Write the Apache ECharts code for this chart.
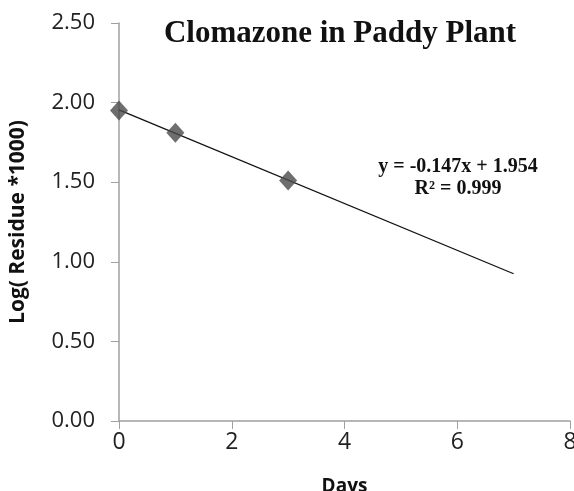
<!DOCTYPE html>
<html>
<head>
<meta charset="utf-8">
<script src="https://cdn.jsdelivr.net/npm/echarts@6/dist/echarts.min.js"></script>
<style>
  html, body { margin: 0; padding: 0; background: #fff; }
  #chart { width: 574px; height: 491px; }
</style>
</head>
<body>
<div id="chart"></div>
<script>
// observed points (days, log residue)
var days = [0, 1, 3];
var logResidue = [1.95, 1.81, 1.51];
// linear trendline ends (y = -0.147x + 1.954)
var trendDays = [0, 7];
var trendValues = [1.954, 0.925];
var equationLines = ["y = -0.147x + 1.954", "R² = 0.999"];

var chartDom = document.getElementById("chart");
var myChart = echarts.init(chartDom, null, { renderer: "canvas" });

var option = {
  animation: false,
  title: {
    text: "Clomazone in Paddy Plant",
    left: 335,
    top: 13,
    textAlign: "center",
    textStyle: {
      fontFamily: "Liberation Serif",
      fontWeight: "bold",
      fontSize: 31,
      color: "#111",
    },
  },
  grid: { left: 119, right: 4, top: 23, bottom: 70, outerBoundsMode: "none", containLabel: false },
  xAxis: {
    type: "value",
    min: 0,
    max: 8,
    interval: 2,
    name: "Days",
    nameLocation: "middle",
    nameGap: 56,
    nameTextStyle: { fontFamily: "Open Sans", fontWeight: "bold", fontSize: 19, color: "#111" },
    axisLine: { lineStyle: { color: "#a0a0a0", width: 1.5 } },
    axisTick: { show: true, length: 8, lineStyle: { color: "#a0a0a0" } },
    axisLabel: { fontFamily: "Open Sans", fontSize: 23, color: "#222", margin: 10 },
    splitLine: { show: false },
  },
  yAxis: {
    type: "value",
    min: 0,
    max: 2.5,
    interval: 0.5,
    name: "Log( Residue *1000)",
    nameLocation: "middle",
    nameGap: 90,
    nameTextStyle: { fontFamily: "Open Sans", fontWeight: "bold", fontSize: 21, color: "#111" },
    axisLine: { show: true, lineStyle: { color: "#a0a0a0", width: 1.5 } },
    axisTick: { show: true, length: 8, lineStyle: { color: "#a0a0a0" } },
    axisLabel: {
      fontFamily: "Open Sans",
      fontSize: 22,
      color: "#222",
      margin: 24,
      formatter: function (v) { return v.toFixed(2); },
    },
    splitLine: { show: false },
  },
  graphic: [
    {
      type: "text",
      x: 458,
      y: 156,
      style: {
        text: equationLines.join("\n"),
        fontFamily: "Liberation Serif",
        fontWeight: "bold",
        fontSize: 20,
        lineHeight: 22,
        fill: "#111",
        align: "center",
        verticalAlign: "top",
      },
    },
  ],
  series: [
    {
      name: "Trend",
      type: "line",
      data: trendDays.map(function (d, i) { return [d, trendValues[i]]; }),
      symbol: "none",
      lineStyle: { color: "#111", width: 1.3 },
      z: 1,
    },
    {
      name: "Residue",
      type: "scatter",
      data: days.map(function (d, i) { return [d, logResidue[i]]; }),
      symbol: "diamond",
      symbolSize: [18, 20],
      itemStyle: { color: "#4a4a4a" },
      z: 2,
    },
  ],
};

option && myChart.setOption(option);
</script>
</body>
</html>
